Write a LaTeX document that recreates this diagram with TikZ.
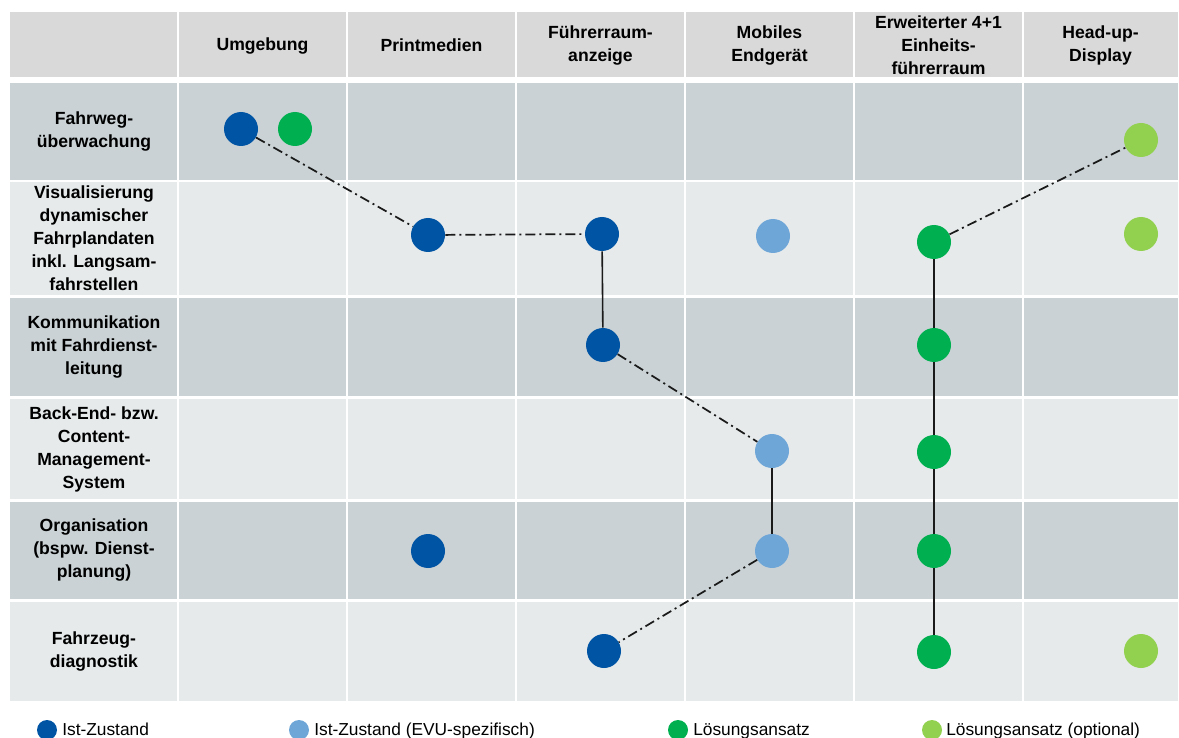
\documentclass[tikz,border=0pt]{standalone}
\usepackage{fontspec}
\setmainfont{Liberation Sans}

\definecolor{kopfgrau}{HTML}{D9D9D9}
\definecolor{zeiledunkel}{HTML}{CAD2D5}
\definecolor{zeilehell}{HTML}{E6EAEB}
\definecolor{istblau}{HTML}{0054A4}
\definecolor{evublau}{HTML}{6FA6D8}
\definecolor{loesgruen}{HTML}{00B050}
\definecolor{optgruen}{HTML}{92D050}
\definecolor{linie}{HTML}{1A1A1A}

\begin{document}
\begin{tikzpicture}[x=0.75pt, y=-0.75pt,
  punkt/.style={circle, inner sep=0pt, minimum size=25.5pt},
  legpunkt/.style={circle, inner sep=0pt, minimum size=15pt},
  tabtext/.style={font=\fontsize{13.2}{17.25}\selectfont\bfseries, align=center, inner sep=0pt},
  legtext/.style={font=\fontsize{13}{16}\selectfont, anchor=base west, inner sep=0pt},
  strichpunkt/.style={linie, line width=1.3pt, dash pattern=on 7.5pt off 3pt on 1.5pt off 3pt},
  durchgehend/.style={linie, line width=1.2pt}]
  \useasboundingbox (0,0) rectangle (1179,738);

  % === Hintergrund der Tabelle ===
  % Kopfzeile hellgrau, darunter 6 Zeilen abwechselnd dunkel / hell
  \fill[kopfgrau] (10,12) rectangle (1178,77);
  \foreach \ya/\yb/\farbe in {83/180/zeiledunkel, 182/295/zeilehell, 298/396/zeiledunkel,
                              399/499/zeilehell, 502/599/zeiledunkel, 602/701/zeilehell} {
    \fill[\farbe] (10,\ya) rectangle (1178,\yb);
  }

  % weisse Spaltentrenner (7 Spalten)
  \foreach \x in {178,347,516,685,854,1023} {
    \draw[white, line width=1.5pt] (\x,12) -- (\x,701);
  }

  % === Kopfzeile ===
  % Spaltenmitten: 262.5, 431.5, 600.5, 769.5, 938.5, 1100.5
  \node[tabtext] (k1) at (262.5,45.5) {Umgebung};
  \node[tabtext] (k2) at (431.5,45.5) {Printmedien};
  \node[tabtext] (k3) at (600.5,45.5) {Führerraum-\\anzeige};
  \node[tabtext] (k4) at (769.5,45.5) {Mobiles\\Endgerät};
  \node[tabtext] (k5) at (938.5,45.5) {Erweiterter 4+1\\Einheits-\\führerraum};
  \node[tabtext] (k6) at (1100.5,45.5) {Head-up-\\Display};

  % === Zeilenbeschriftung (erste Spalte) ===
  \node[tabtext] (z1) at (94,131) {Fahrweg-\\überwachung};
  \node[tabtext] (z2) at (94,238.5) {Visualisierung\\dynamischer\\Fahrplandaten\\inkl. Langsam-\\fahrstellen};
  \node[tabtext] (z3) at (94,346.5) {Kommunikation\\mit Fahrdienst-\\leitung};
  \node[tabtext] (z4) at (94,449) {Back-End- bzw.\\Content-\\Management-\\System};
  \node[tabtext] (z5) at (94,550) {Organisation\\(bspw. Dienst-\\planung)};
  \node[tabtext] (z6) at (94,651) {Fahrzeug-\\diagnostik};

  % === Punkte ===
  % Ist-Zustand
  \node[punkt, fill=istblau] (fw-umg)  at (241,129) {};
  \node[punkt, fill=istblau] (vis-pm)  at (428,235) {};
  \node[punkt, fill=istblau] (vis-fra) at (602,234) {};
  \node[punkt, fill=istblau] (kom-fra) at (603,345) {};
  \node[punkt, fill=istblau] (org-pm)  at (428,551) {};
  \node[punkt, fill=istblau] (fzd-fra) at (604,651) {};
  % Ist-Zustand (EVU-spezifisch)
  \node[punkt, fill=evublau] (vis-mob) at (773,236) {};
  \node[punkt, fill=evublau] (be-mob)  at (772,451) {};
  \node[punkt, fill=evublau] (org-mob) at (772,551) {};
  % Loesungsansatz
  \node[punkt, fill=loesgruen] (fw-umg2) at (295,129) {};
  \node[punkt, fill=loesgruen] (vis-ef)  at (934,242) {};
  \node[punkt, fill=loesgruen] (kom-ef)  at (934,345) {};
  \node[punkt, fill=loesgruen] (be-ef)   at (934,452) {};
  \node[punkt, fill=loesgruen] (org-ef)  at (934,551) {};
  \node[punkt, fill=loesgruen] (fzd-ef)  at (934,652) {};
  % Loesungsansatz (optional)
  \node[punkt, fill=optgruen] (fw-hud)  at (1141,140) {};
  \node[punkt, fill=optgruen] (vis-hud) at (1141,234) {};
  \node[punkt, fill=optgruen] (fzd-hud) at (1141,651) {};

  % === Verbindungen ===
  \draw[strichpunkt] (fw-umg) -- (vis-pm);
  \draw[strichpunkt] (vis-pm) -- (vis-fra);
  \draw[durchgehend] (vis-fra) -- (kom-fra);
  \draw[strichpunkt] (kom-fra) -- (be-mob);
  \draw[durchgehend] (be-mob) -- (org-mob);
  \draw[strichpunkt] (org-mob) -- (fzd-fra);
  \draw[strichpunkt] (vis-ef) -- (fw-hud);
  \draw[durchgehend] (vis-ef) -- (kom-ef) -- (be-ef) -- (org-ef) -- (fzd-ef);

  % === Legende ===
  \node[legpunkt, fill=istblau]   (l1) at (47,730) {};
  \node[legtext] (lt1) at (62,735) {Ist-Zustand};
  \node[legpunkt, fill=evublau]   (l2) at (299,730) {};
  \node[legtext] (lt2) at (314,735) {Ist-Zustand (EVU-spezifisch)};
  \node[legpunkt, fill=loesgruen] (l3) at (678,730) {};
  \node[legtext] (lt3) at (693,735) {Lösungsansatz};
  \node[legpunkt, fill=optgruen]  (l4) at (932,730) {};
  \node[legtext] (lt4) at (946,735) {Lösungsansatz (optional)};
\end{tikzpicture}
\end{document}
